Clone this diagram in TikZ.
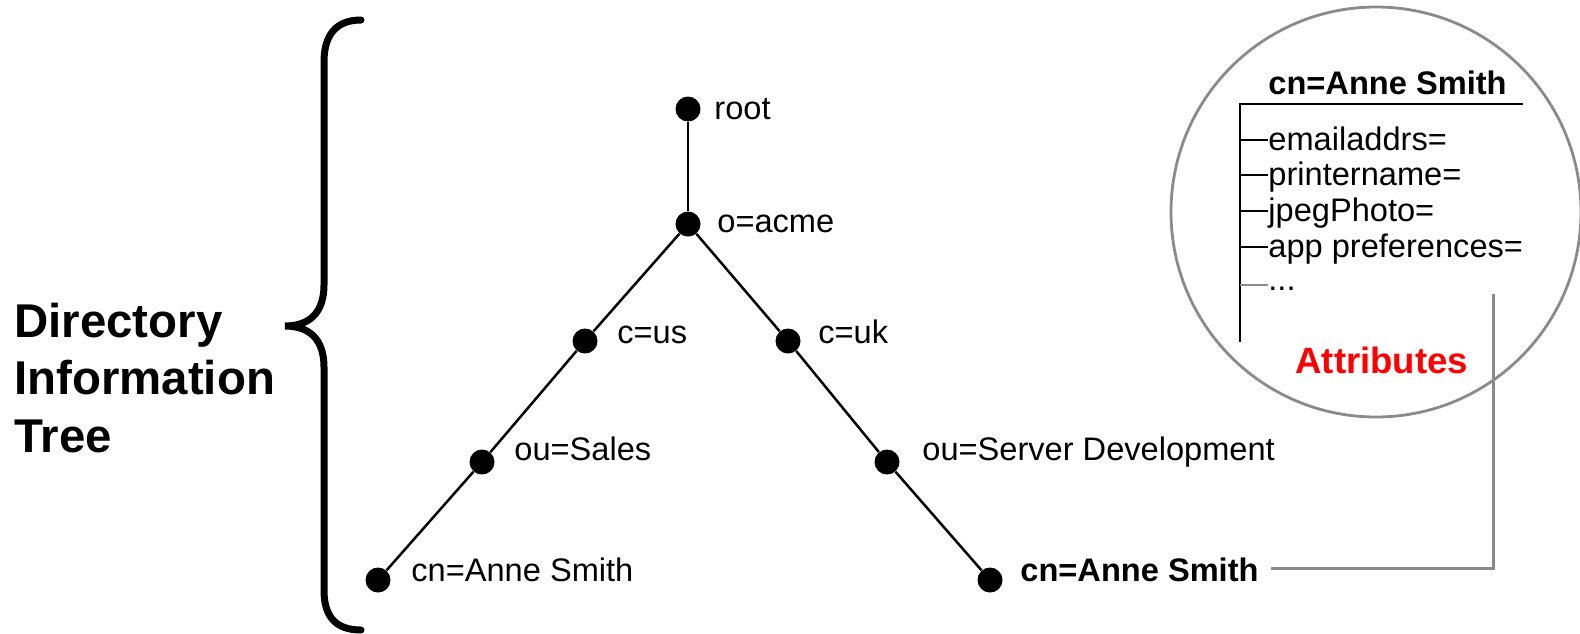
\documentclass[tikz,border=0pt]{standalone}
\usepackage{fontspec}
\setmainfont{Liberation Sans}
\definecolor{ringgray}{HTML}{8A8A8A}
\definecolor{attrred}{HTML}{FF0000}
\begin{document}
\begin{tikzpicture}[x=0.5pt,y=-0.5pt,
  dot/.style={circle,fill=black,inner sep=0pt,minimum size=12.5pt},
  lbl/.style={anchor=base west,inner sep=0pt,font=\fontsize{16.3}{19}\selectfont},
  lblb/.style={lbl,font=\fontsize{16.3}{19}\selectfont\bfseries},
  edge/.style={line width=1.25pt,black},
  tick/.style={line width=1.2pt,black},
  side/.style={anchor=base west,inner sep=0pt,font=\fontsize{23.7}{28}\selectfont\bfseries}]
\useasboundingbox (0,0) rectangle (1580,633);
% brace
\draw[line width=3.5pt,line cap=round] (361,20) .. controls (336,20) and (324,35) .. (324,62)
  -- (324,285) .. controls (324,312) and (310,326) .. (285,326)
  .. controls (310,326) and (324,340) .. (324,367)
  -- (324,590) .. controls (324,617) and (336,630) .. (361,630);
% side text
\node[side] (t1) at (14,337) {Directory};
\node[side] (t2) at (14,394) {Information};
\node[side] (t3) at (14,452) {Tree};
% tree dots
\node[dot] (root) at (688,109) {};
\node[dot] (acme) at (688,224) {};
\node[dot] (us) at (585,341) {};
\node[dot] (uk) at (788,341) {};
\node[dot] (sales) at (482,462) {};
\node[dot] (dev) at (887,462) {};
\node[dot] (cnl) at (378,580) {};
\node[dot] (cnr) at (990,580) {};
\draw[edge] (root) -- (acme);
\draw[edge] (acme) -- (us);
\draw[edge] (acme) -- (uk);
\draw[edge] (us) -- (sales);
\draw[edge] (uk) -- (dev);
\draw[edge] (sales) -- (cnl);
\draw[edge] (dev) -- (cnr);
% labels
\node[lbl] (lroot) at (714,119) {root};
\node[lbl] (lacme) at (717,232) {o=acme};
\node[lbl] (lus) at (617,343) {c=us};
\node[lbl] (luk) at (818,343) {c=uk};
\node[lbl] (lsales) at (514,460) {ou=Sales};
\node[lbl] (ldev) at (922,460) {ou=Server Development};
\node[lbl] (lcnl) at (411,581) {cn=Anne Smith};
\node[lblb] (lcnr) at (1020,581) {cn=Anne Smith};
% magnifier circle
\node[circle,draw=ringgray,line width=1.4pt,minimum size=205pt,inner sep=0pt] (ring) at (1376,212) {};
\node[lblb] (head) at (1268,94) {cn=Anne Smith};
\coordinate (hl) at (1240,104);
\coordinate (hr) at (1523,104);
\coordinate (vb) at (1240,342);
\draw[tick] (hr) -- (hl) -- (vb);
\node[lbl] (a1) at (1268,150) {emailaddrs=};
\node[lbl] (a2) at (1268,185) {printername=};
\node[lbl] (a3) at (1268,221) {jpegPhoto=};
\node[lbl] (a4) at (1268,257) {app preferences=};
\node[lbl] (a5) at (1268,290) {...};
\draw[tick] (1240,140) -- (a1.west |- 0,140);
\draw[tick] (1240,175) -- (a2.west |- 0,175);
\draw[tick] (1240,211) -- (a3.west |- 0,211);
\draw[tick] (1240,247) -- (a4.west |- 0,247);
\draw[tick,ringgray] (1240,285) -- (a5.west |- 0,285);
\node[anchor=base west,inner sep=0pt,text=attrred,font=\fontsize{18.3}{22}\selectfont\bfseries] (attr) at (1295,373) {Attributes};
% gray connector
\coordinate (cs) at (1271,568);
\coordinate (bend) at (1493,568);
\coordinate (ce) at (1493,294);
\draw[ringgray,line width=1.5pt] (cs) -- (bend) -- (ce);
\end{tikzpicture}
\end{document}
